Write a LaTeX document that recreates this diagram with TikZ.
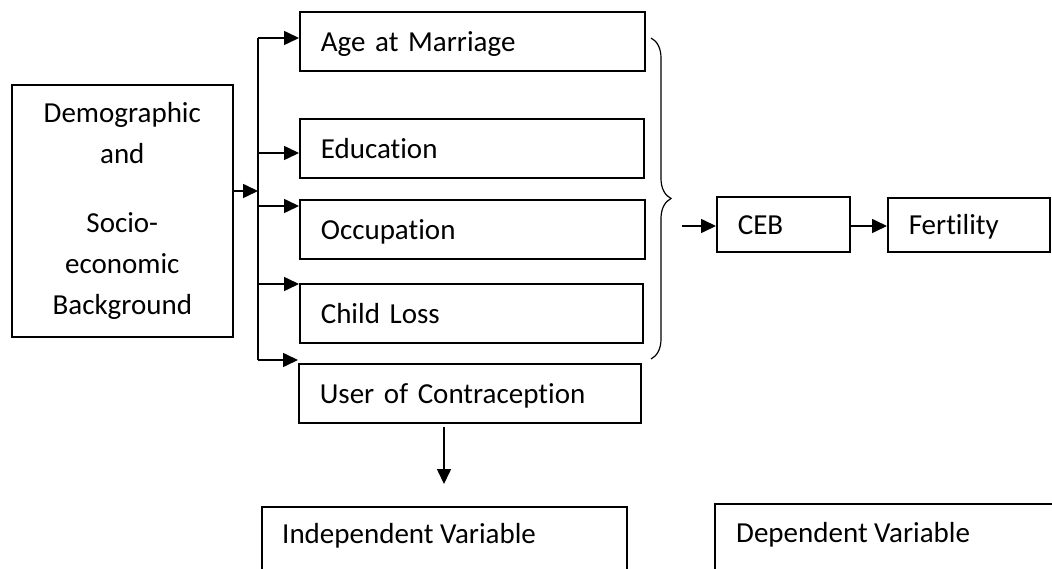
\documentclass[tikz,border=0pt]{standalone}
\usepackage{fontspec}
\setmainfont{Carlito}[Ligatures=NoCommon]
\usetikzlibrary{arrows.meta,decorations.pathreplacing}
\begin{document}
\begin{tikzpicture}[x=1pt,y=-1pt,
  font=\fontsize{29}{41}\selectfont,
  vbox/.style={draw, line width=1.6pt, inner xsep=21pt, inner ysep=0pt, align=left,
               anchor=north west, text height=20pt, text depth=0pt},
  openbox/.style={draw, line width=1.6pt, inner sep=0pt, anchor=north west},
  lbl/.style={inner sep=0pt, anchor=base west},
  conn/.style={line width=1.6pt},
  arr/.style={line width=1.6pt, -{Triangle[length=15pt,width=14pt]}}]
\useasboundingbox (0,0) rectangle (1052,569);

% left box
\node[draw, line width=1.6pt, anchor=north west, minimum width=221pt, minimum height=252pt,
      inner sep=0pt, align=center] (dsb) at (11,84)
  {Demographic\\ and\\[28pt] Socio-\\ economic\\ Background};

% factor boxes
\node[vbox, text width=303pt, minimum height=59pt] (age)   at (299,11)  {Age at Marriage};
\node[vbox, text width=302pt, minimum height=59pt] (edu)   at (299,118) {Education};
\node[vbox, text width=303pt, minimum height=59pt] (occ)   at (299,199) {Occupation};
\node[vbox, text width=301pt, minimum height=59pt] (child) at (299,283) {Child Loss};
\node[vbox, text width=300pt, minimum height=59pt] (user)  at (298,363) {User of Contraception};

% outcome boxes
\node[vbox, text width=91pt,  minimum height=55pt] (ceb)  at (716,196) {CEB};
\node[vbox, text width=120pt, minimum height=54pt] (fert) at (887,197) {Fertility};

% bottom legend boxes (open at the bottom / right)
\node[openbox, minimum width=365pt, minimum height=100pt] (indbox) at (261,506) {};
\node[lbl] (ind) at (282,543) {Independent Variable};
\node[openbox, minimum width=420pt, minimum height=100pt] (depbox) at (714,503) {};
\node[lbl] (dep) at (736,542) {Dependent Variable};

% bus coordinates
\coordinate (jn) at (258,191);
\coordinate (b1) at (258,38);
\coordinate (b2) at (258,153);
\coordinate (b3) at (258,206);
\coordinate (b4) at (258,284);
\coordinate (b5) at (258,360);

\draw[arr] (dsb.east |- jn) -- (jn);
\draw[conn] (b1) -- (b5);
\draw[arr] (b1) -- (age.west |- b1);
\draw[arr] (b2) -- (edu.west |- b2);
\draw[arr] (b3) -- (occ.west |- b3);
\draw[arr] (b4) -- (child.west |- b4);
\draw[arr] (b5) -- (user.west |- b5);

% brace
\coordinate (bt) at (651,38);
\coordinate (bb) at (651,359);
\draw[line width=1.2pt, decorate, decoration={brace, amplitude=20pt, aspect=0.5}] (bt) -- (bb);

% to CEB and Fertility
\coordinate (bx) at (682,226);
\draw[arr] (bx) -- (ceb.west |- bx);
\draw[arr] (ceb.east |- bx) -- (fert.west |- bx);

% down arrow
\coordinate (dn) at (444,484);
\draw[arr, shorten <=3pt] (user.south -| dn) -- (dn);
\end{tikzpicture}
\end{document}
